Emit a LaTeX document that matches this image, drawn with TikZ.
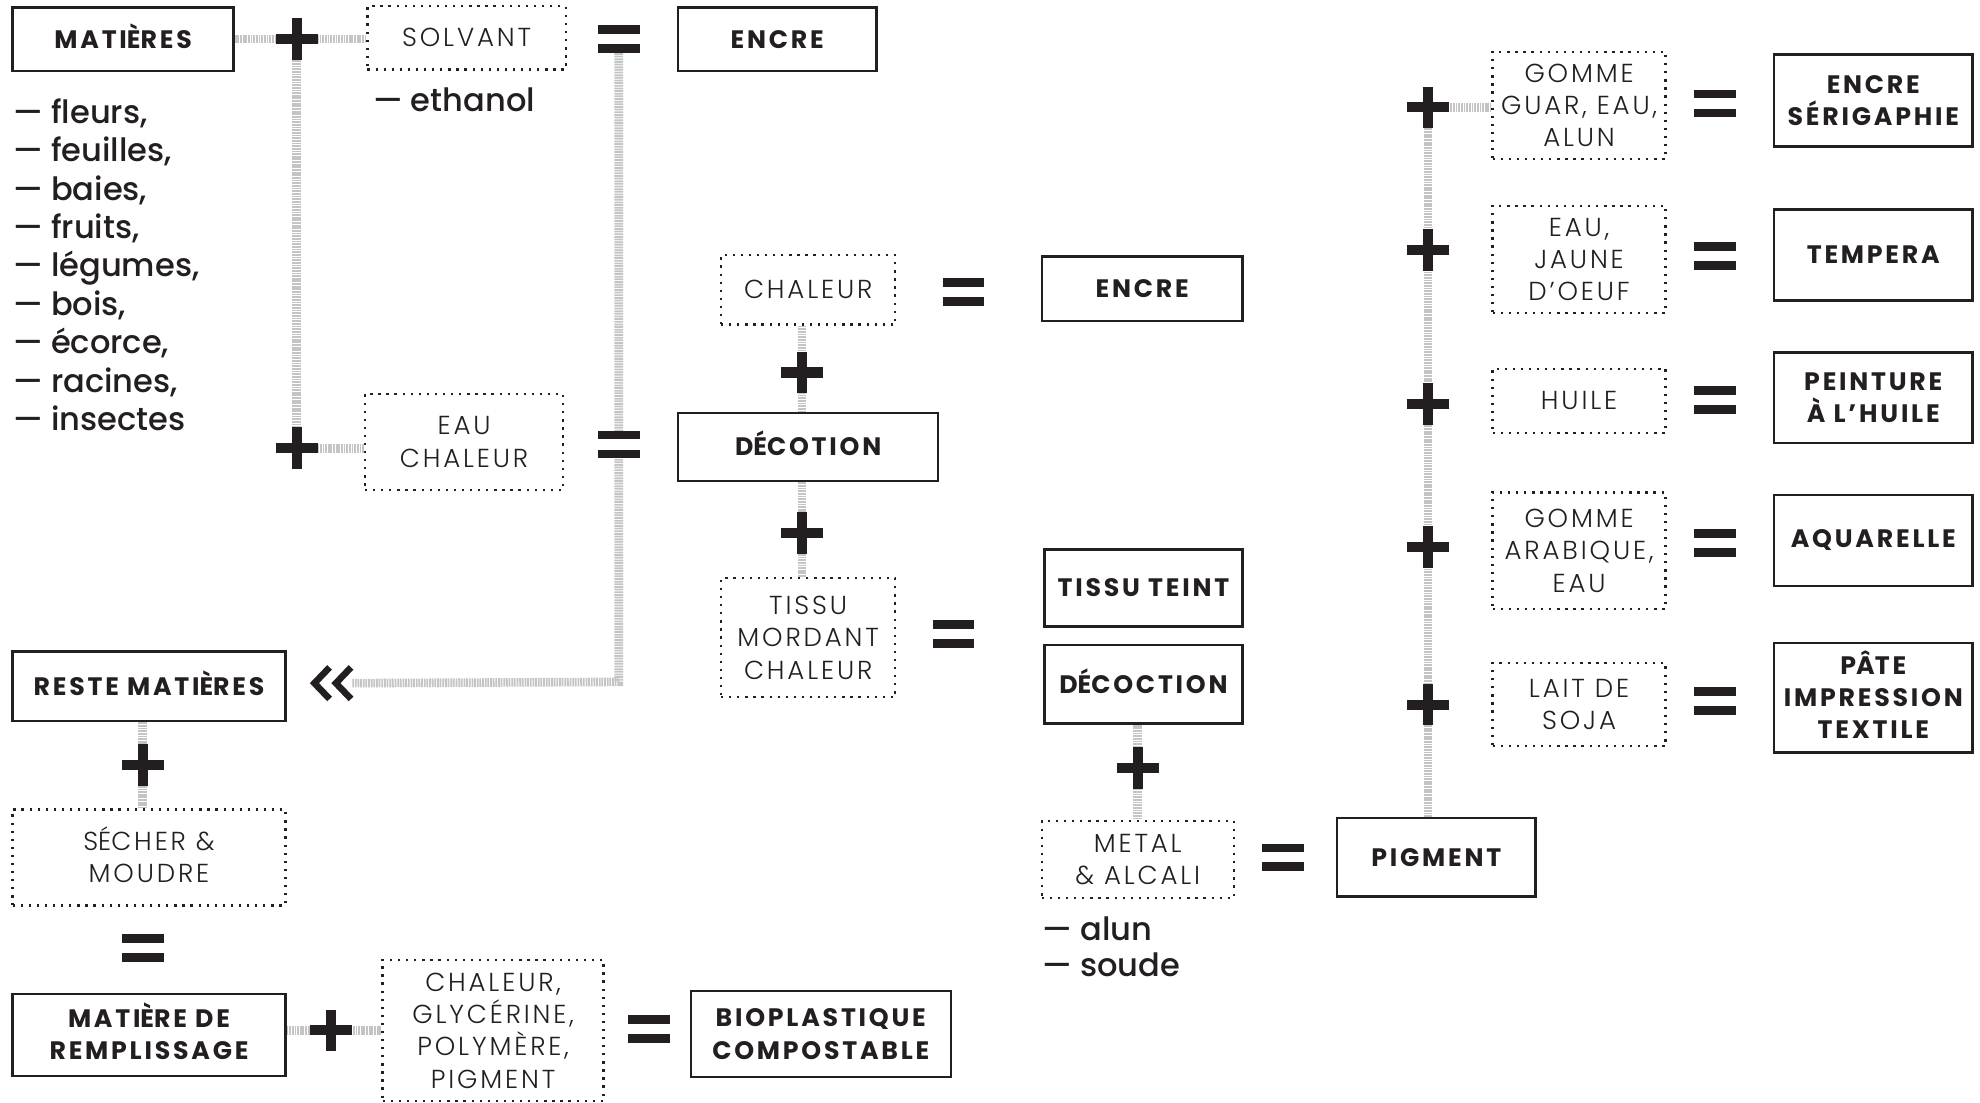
\documentclass[tikz,border=0pt]{standalone}
\usepackage{fontspec}
\setmainfont{Poppins}
\newfontfamily\boldf{Poppins Bold}[LetterSpace=11]
\newfontfamily\lightf{Poppins Light}[LetterSpace=11]
\newfontfamily\listf{Poppins Medium}
\usetikzlibrary{calc}
\definecolor{ink}{HTML}{231F20}
\definecolor{linkgray}{HTML}{C4C4C4}
\newcommand\acc[1]{\smash{#1}}
\newcommand\mkplus[1]{%
  \fill[ink] ($(#1)+(-16.5,-4)$) rectangle ($(#1)+(16.5,4)$);
  \fill[ink] ($(#1)+(-4,-16.5)$) rectangle ($(#1)+(4,16.5)$);}
\newcommand\mkeq[1]{%
  \fill[white] ($(#1)+(-16.5,-11)$) rectangle ($(#1)+(16.5,11)$);
  \fill[ink] ($(#1)+(-16.5,-11)$) rectangle ($(#1)+(16.5,-4)$);
  \fill[ink] ($(#1)+(-16.5,4)$) rectangle ($(#1)+(16.5,11)$);}
\begin{document}
\begin{tikzpicture}[x={(0.5pt,0pt)},y={(0pt,-0.5pt)},
  solidbox/.style={draw=ink, line width=0.95pt, fill=white, text=ink, align=center, inner sep=0pt,
    font=\boldf\fontsize{10}{12.8}\selectfont},
  dotbox/.style={draw=ink, line width=0.9pt, dash pattern=on 0.9pt off 2.3pt, fill=white, text=ink,
    align=center, inner sep=0pt, font=\lightf\fontsize{10.3}{12.8}\selectfont},
  sz/.style 2 args={minimum width=#1, minimum height=#2},
  linkline/.style={draw=linkgray, line width=3.4pt, dash pattern=on 0.7pt off 0.35pt},
  listtext/.style={text=ink, inner sep=0pt, anchor=base west, font=\listf\fontsize{12.7}{15.2}\selectfont}]
\useasboundingbox (0,0) rectangle (1568,873);
\fill[white] (0,0) rectangle (1568,873);

% coordinates of operators
\coordinate (p1) at (235,31);
\coordinate (p2) at (235,355);
\coordinate (p3) at (635,295);
\coordinate (p4) at (635,422);
\coordinate (p5) at (901,608);
\coordinate (p6) at (1131,85);
\coordinate (p7) at (1131,198);
\coordinate (p8) at (1131,320);
\coordinate (p9) at (1131,433);
\coordinate (p10) at (1131,558);
\coordinate (p11) at (113,606);
\coordinate (p12) at (262,816);
\coordinate (e1) at (490,31);
\coordinate (e2) at (490,352);
\coordinate (e3) at (763,231);
\coordinate (e4) at (755,502);
\coordinate (e5) at (1016,679);
\coordinate (e6) at (1358,82);
\coordinate (e7) at (1358,203);
\coordinate (e8) at (1358,317);
\coordinate (e9) at (1358,430);
\coordinate (e10) at (1358,555);
\coordinate (e11) at (113,751);
\coordinate (e12) at (514,815);
\coordinate (e1b) at (490,42);
\coordinate (corner) at (490,540);
\coordinate (chev) at (279,541);

% boxes
\node[solidbox, sz={87.5pt}{25pt}] (matieres) at (97.5,31) {MATI\acc{È}RES};
\node[dotbox, sz={78.5pt}{25pt}] (solvant) at (369.5,30) {SOLVANT};
\node[solidbox, sz={78.5pt}{25pt}] (encreA) at (615.5,31) {ENCRE};
\node[dotbox, sz={78.5pt}{38pt}] (eauchaleur) at (367.5,350) {EAU\\CHALEUR};
\node[dotbox, sz={69pt}{27.5pt}] (chaleur) at (640,229.5) {CHALEUR};
\node[solidbox, sz={79.5pt}{25.5pt}] (encreB) at (904.5,228.5) {ENCRE};
\node[solidbox, sz={103pt}{27pt}] (decotion) at (640,354) {D\acc{É}COTION};
\node[dotbox, sz={69pt}{47pt}] (tissu) at (640,505) {TISSU\\MORDANT\\CHALEUR};
\node[solidbox, sz={78.5pt}{30.5pt}] (tissuteint) at (905.5,465.5) {TISSU TEINT};
\node[solidbox, sz={78.5pt}{31pt}] (decoction) at (905.5,542) {D\acc{É}COCTION};
\node[dotbox, sz={76pt}{30.5pt}] (metal) at (901,680.5) {METAL\\\& ALCALI};
\node[solidbox, sz={78.5pt}{31pt}] (pigment) at (1137.5,679) {PIGMENT};
\node[dotbox, sz={68.5pt}{42.5pt}] (gomguar) at (1250.5,83.5) {GOMME\\GUAR, EAU,\\ALUN};
\node[dotbox, sz={68.5pt}{42.5pt}] (jaune) at (1250.5,205.5) {EAU,\\JAUNE\\D’OEUF};
\node[dotbox, sz={68.5pt}{25.5pt}] (huile) at (1250.5,317.5) {HUILE};
\node[dotbox, sz={68.5pt}{46pt}] (arabique) at (1250.5,436) {GOMME\\ARABIQUE,\\EAU};
\node[dotbox, sz={68.5pt}{33pt}] (soja) at (1250.5,558) {LAIT DE\\SOJA};
\node[solidbox, sz={78.5pt}{36.5pt}] (serig) at (1483.5,79.5) {ENCRE\\SÉRIGAPHIE};
\node[solidbox, sz={78.5pt}{36pt}] (tempera) at (1483.5,202) {TEMPERA};
\node[solidbox, sz={78.5pt}{36pt}] (peinture) at (1483.5,315) {PEINTURE\\À L’HUILE};
\node[solidbox, sz={78.5pt}{36pt}] (aquarelle) at (1483.5,428) {AQUARELLE};
\node[solidbox, sz={78.5pt}{43.5pt}] (pate) at (1483.5,552.5) {P\acc{Â}TE\\IMPRESSION\\TEXTILE};
\node[solidbox, sz={108pt}{27.5pt}] (reste) at (118,543.5) {RESTE MATI\acc{È}RES};
\node[dotbox, sz={108pt}{38pt}] (secher) at (118,679) {S\acc{É}CHER \&\\MOUDRE};
\node[solidbox, sz={108pt}{32.5pt}] (remplissage) at (118,819.5) {MATI\acc{È}RE DE\\REMPLISSAGE};
\node[dotbox, sz={87.5pt}{56pt}] (chaleurB) at (390.5,816) {CHALEUR,\\GLYCÉRINE,\\POLYMÈRE,\\PIGMENT};
\node[solidbox, sz={103pt}{34pt}] (bioplast) at (650,819) {BIOPLASTIQUE\\COMPOSTABLE};

% connectors
\path[linkline] (matieres.east |- p1) -- (p1) -- (p1 -| solvant.west);
\path[linkline] (p1) -- (p2) -- (p2 -| eauchaleur.west);
\path[linkline] (e1b) -- (e2) -- (corner) -- (chev);
\path[linkline] (p3 |- chaleur.south) -- (p3) -- (p3 |- decotion.north);
\path[linkline] (p4 |- decotion.south) -- (p4) -- (p4 |- tissu.north);
\path[linkline] (p5 |- decoction.south) -- (p5) -- (p5 |- metal.north);
\path[linkline] (p6 |- pigment.north) -- (p6) -- (p6 -| gomguar.west);
\path[linkline] (p11 |- reste.south) -- (p11) -- (p11 |- secher.north);
\path[linkline] (remplissage.east |- p12) -- (p12) -- (p12 -| chaleurB.west);

% operators
\foreach \p in {p1,p2,p3,p4,p5,p6,p7,p8,p9,p10,p11,p12} {\mkplus{\p}}
\foreach \e in {e1,e2,e3,e4,e5,e6,e7,e8,e9,e10,e11,e12} {\mkeq{\e}}

% double chevron
\draw[ink, line width=2.6pt, line join=miter, line cap=butt]
  ($(chev)+(-18,-12.5)$) -- ($(chev)+(-30,0)$) -- ($(chev)+(-18,12.5)$);
\draw[ink, line width=2.6pt, line join=miter, line cap=butt]
  ($(chev)+(-1,-12.5)$) -- ($(chev)+(-13,0)$) -- ($(chev)+(-1,12.5)$);

% lists
\foreach \t [count=\i] in {fleurs{,},feuilles{,},baies{,},fruits{,},légumes{,},bois{,},écorce{,},racines{,},insectes}
  {\node[listtext] (li\i) at (10,{97.7+30.4*(\i-1)}) {— \t};}
\node[listtext] (ethanol) at (295,88.5) {— ethanol};
\node[listtext] (alun) at (825,744.5) {— alun};
\node[listtext] (soude) at (825,773.5) {— soude};
\end{tikzpicture}
\end{document}
